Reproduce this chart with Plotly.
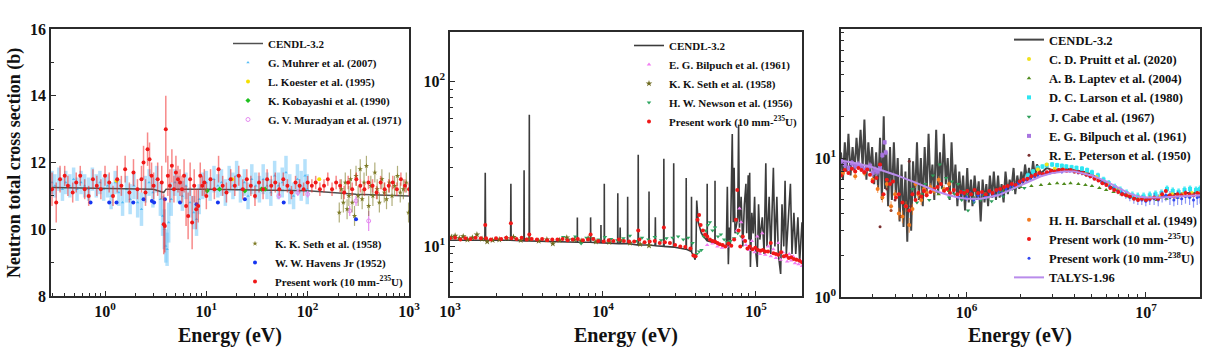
import plotly.graph_objects as go

# ---------------- Panel 1 (0.3 eV - 1 keV) ----------------
cendl1_e = [0.3, 1, 3, 3.8, 4.0, 4.2, 10, 100, 300, 1000]
cendl1_y = [11.25, 11.22, 11.2, 11.1, 11.2, 11.2, 11.2, 11.15, 11.05, 11.0]

muhrer_e = [0.30, 0.32, 0.35, 0.38, 0.41, 0.45, 0.49, 0.53, 0.58, 0.63,
            0.69, 0.75, 0.82, 0.89, 0.97, 1.06, 1.15, 1.26, 1.37, 1.49,
            1.63, 1.77, 1.93, 2.10, 2.29, 2.50, 2.72, 2.97, 3.23, 3.52,
            3.70, 3.84, 3.98, 4.10, 4.25, 4.50, 4.90, 5.30, 5.80, 6.30,
            6.90, 7.50, 8.00, 8.50, 9.20, 10.0, 10.9, 11.9, 13.0, 14.1,
            15.4, 16.8, 18.3, 19.9, 21.7, 23.7, 25.8, 28.1, 30.7, 33.4,
            36.4, 39.7, 43.3, 47.2, 51.4, 56.1, 61.1, 66.6, 72.6, 79.2,
            86.3, 94.1, 99.0]
muhrer_y = [11.4, 11.3, 11.5, 11.2, 11.4, 11.3, 11.5, 11.2, 11.4, 11.3,
            11.2, 11.5, 11.3, 11.4, 11.2, 11.3, 11.0, 11.4, 11.1, 10.8,
            11.2, 10.9, 11.3, 10.8, 10.6, 11.2, 11.4, 11.1, 11.5, 10.9,
            10.4, 10.0, 9.5, 9.4, 10.2, 10.9, 11.4, 11.2, 11.0, 11.3,
            10.8, 10.5, 10.3, 10.9, 11.3, 11.4, 11.2, 11.5, 11.3, 11.4,
            11.1, 11.5, 11.3, 11.6, 11.2, 11.4, 11.0, 11.5, 11.3, 11.2,
            11.5, 11.3, 11.1, 11.6, 11.3, 11.4, 11.7, 11.2, 11.0, 11.5,
            11.3, 11.6, 11.2]
muhrer_err = [0.35, 0.35, 0.35, 0.35, 0.35, 0.35, 0.35, 0.35, 0.35, 0.35,
              0.35, 0.35, 0.35, 0.35, 0.35, 0.35, 0.4, 0.35, 0.4, 0.4,
              0.4, 0.45, 0.4, 0.45, 0.5, 0.4, 0.4, 0.45, 0.4, 0.5,
              0.6, 0.6, 0.5, 0.5, 0.6, 0.5, 0.4, 0.4, 0.45, 0.4,
              0.45, 0.5, 0.5, 0.45, 0.4, 0.35, 0.35, 0.4, 0.35, 0.4,
              0.4, 0.4, 0.4, 0.45, 0.4, 0.4, 0.4, 0.45, 0.4, 0.4,
              0.45, 0.4, 0.4, 0.45, 0.4, 0.45, 0.5, 0.45, 0.4, 0.45,
              0.45, 0.5, 0.45]

koester_e = [1.3, 18, 130]
koester_y = [11.45, 11.5, 11.5]

kobayashi_e = [10.2, 13.5, 24, 35, 38]
kobayashi_y = [11.15, 11.2, 11.15, 11.2, 11.2]

muradyan_e = [52, 80, 100, 260, 300, 400]
muradyan_y = [11.0, 11.1, 11.05, 10.55, 10.85, 10.25]
muradyan_err = [0.1, 0.1, 0.1, 0.15, 0.15, 0.3]

seth1_e = [205, 215, 225, 235, 245, 255, 265, 275, 290, 300,
           315, 330, 345, 360, 380, 400, 420, 440, 460, 485,
           510, 540, 570, 600, 640, 680, 720, 770, 820, 880,
           940, 990]
seth1_y = [10.5, 11.2, 10.8, 11.4, 10.6, 11.0, 11.5, 10.8, 10.4, 11.6,
           11.0, 11.8, 10.9, 11.4, 11.9, 10.7, 11.3, 11.0, 11.7, 11.2,
           10.8, 11.5, 11.1, 10.9, 11.4, 11.0, 11.3, 11.6, 11.1, 11.2,
           11.4, 10.5]

havens_e = [0.72, 1.1, 1.3, 1.9, 2.4, 2.9, 3.05, 3.9, 5.5, 8.0, 13, 24, 58, 300]
havens_y = [10.8, 10.8, 10.8, 10.8, 10.9, 10.85, 10.8, 10.9, 10.8, 10.75, 10.8, 10.9, 10.8, 10.3]

present1_e = [0.30, 0.33, 0.36, 0.40, 0.43, 0.48, 0.52, 0.57, 0.63, 0.69,
              0.76, 0.83, 0.91, 1.00, 1.10, 1.20, 1.32, 1.45, 1.58, 1.74,
              1.91, 2.09, 2.29, 2.40, 2.51, 2.63, 2.75, 2.88, 3.02, 3.31,
              3.63, 3.80, 3.89, 3.98, 4.17, 4.37, 4.57, 4.79, 5.01, 5.25,
              5.50, 5.75, 6.03, 6.31, 6.61, 6.92, 7.24, 7.59, 7.94, 8.32,
              8.71, 9.12, 9.55, 10.0, 11.0, 12.0, 13.2, 14.5, 15.8, 17.4,
              19.1, 20.9, 22.9, 25.1, 27.5, 30.2, 33.1, 36.3, 39.8, 43.7,
              47.9, 52.5, 57.5, 63.1, 69.2, 75.9, 83.2, 91.2, 100, 110,
              120, 132, 145, 158, 174, 191, 209, 229, 251, 275,
              302, 331, 363, 398, 437, 479, 525, 575, 631, 692,
              759, 832, 912, 1000]
present1_y = [11.2, 10.8, 11.5, 11.6, 11.3, 11.1, 11.4, 11.6, 11.2, 11.0,
              11.5, 11.3, 11.2, 11.6, 11.4, 11.0, 11.5, 11.3, 11.8, 11.1,
              11.7, 11.2, 11.5, 12.0, 11.1, 12.4, 12.1, 11.6, 11.3, 11.5,
              11.4, 10.15, 10.1, 13.0, 11.6, 11.3, 11.9, 11.2, 11.7, 11.5,
              11.4, 11.2, 11.6, 10.7, 10.4, 11.5, 10.2, 11.3, 10.6, 10.7,
              11.6, 11.3, 11.4, 11.0, 11.5, 11.2, 11.8, 11.3, 11.1, 11.5,
              11.3, 11.6, 11.2, 11.5, 11.3, 11.0, 11.4, 11.2, 11.5, 11.3,
              11.4, 11.2, 11.5, 11.3, 11.1, 11.4, 11.3, 11.2, 11.4, 11.3,
              11.4, 11.2, 11.3, 11.5, 11.2, 11.4, 11.3, 11.1, 11.4, 11.2,
              11.5, 11.3, 11.2, 11.4, 11.3, 11.1, 11.4, 11.2, 11.3, 11.4,
              11.2, 11.5, 11.3, 11.2]
present1_err = [0.5, 0.6, 0.4, 0.3, 0.3, 0.3, 0.3, 0.3, 0.3, 0.3,
                0.3, 0.3, 0.3, 0.3, 0.3, 0.3, 0.4, 0.3, 0.4, 0.3,
                0.4, 0.3, 0.4, 0.5, 0.4, 0.5, 0.5, 0.4, 0.4, 0.5,
                0.5, 0.9, 0.8, 1.0, 0.6, 0.5, 0.5, 0.4, 0.5, 0.4,
                0.4, 0.4, 0.5, 0.6, 0.7, 0.5, 0.8, 0.5, 0.6, 0.5,
                0.4, 0.3, 0.4, 0.4, 0.3, 0.3, 0.4, 0.3, 0.3, 0.3,
                0.3, 0.3, 0.3, 0.3, 0.3, 0.3, 0.3, 0.3, 0.3, 0.3,
                0.3, 0.2, 0.2, 0.2, 0.2, 0.2, 0.2, 0.2, 0.2, 0.2,
                0.2, 0.2, 0.2, 0.2, 0.2, 0.2, 0.2, 0.2, 0.2, 0.2,
                0.2, 0.2, 0.2, 0.2, 0.2, 0.2, 0.2, 0.2, 0.2, 0.2,
                0.2, 0.2, 0.2, 0.2]

# ---------------- Panel 2 (1 keV - 200 keV) ----------------
cendl2_e = [1000, 1690, 1700, 1710, 2490, 2500, 2510, 3040, 3050, 3060,
            3290, 3300, 3310, 6790, 6800, 6810, 8290, 8300, 8320, 9690,
            9700, 9720, 10190, 10200, 10230, 12470, 12500, 12530, 12900, 12950,
            13000, 14460, 14500, 14540, 16950, 17000, 17050, 19950, 20000, 20050,
            21900, 22000, 22100, 24900, 25000, 25100, 28900, 29000, 29100, 34900,
            35000, 35100, 37800, 37900, 38000, 39500, 40000, 40500, 41000, 41500,
            42000, 44000, 47000, 47900, 48000, 48100, 53900, 54000, 54100, 60000,
            64000, 65000, 66000, 67000, 68000, 70000, 71000, 72000, 73000, 76000,
            77000, 78000, 80000, 82000, 84000, 86000, 87000, 89000, 90000, 91000,
            92000, 94000, 96000, 98000, 100000, 102000, 104000, 106000, 110000, 113000,
            116000, 118000, 122000, 125000, 130000, 133000, 137000, 140000, 145000, 148000,
            152000, 155000, 158000, 163000, 168000, 172000, 177000, 182000, 188000, 193000,
            200000]
cendl2_y = [10.9, 10.9, 28, 10.9, 10.9, 24, 10.9, 10.8, 29, 10.8,
            10.8, 63, 10.8, 10.6, 15, 10.6, 10.6, 15, 10.6, 10.5,
            13.5, 10.5, 10.5, 24, 10.5, 10.4, 21, 10.4, 10.4, 13,
            10.4, 10.4, 20, 10.4, 10.2, 36, 10.2, 10.2, 21.5, 10.2,
            10.1, 15, 10.1, 10.0, 34, 10.0, 9.9, 32, 9.9, 9.6,
            26, 9.6, 9.3, 20, 9.2, 8.6, 8.3, 9.0, 19, 16,
            14, 12, 11, 10.8, 24, 10.8, 10.5, 25, 10.5, 10.2,
            10, 23, 7.8, 13, 10, 48, 14, 30, 12, 15,
            55, 13, 20, 10, 18, 24, 12, 27, 11, 28,
            7.5, 16, 12, 20, 9, 7.5, 18, 11, 15, 9,
            32, 10, 20, 9, 30, 10, 20, 9, 6.8, 18,
            10, 25, 9, 15, 24, 9, 16, 9, 15, 8,
            14]

bilpuch2_e = [48000, 52000, 56000, 60000, 64000, 68000, 72000, 75000, 78000, 80000,
              83000, 86000, 90000, 94000, 98000, 102000, 106000, 110000, 115000, 120000,
              125000, 130000, 135000, 140000, 145000, 150000, 155000, 160000, 165000, 170000,
              175000, 180000, 185000, 190000, 195000, 200000]
bilpuch2_y = [10.2, 10.4, 10.0, 9.8, 9.9, 10.1, 11.0, 12.5, 17, 14,
              11.0, 10.2, 9.5, 10.8, 9.2, 11.5, 9.0, 12, 8.9, 10.0,
              8.7, 9.6, 8.5, 10.5, 8.3, 9.2, 8.6, 8.1, 9.0, 8.2,
              8.7, 7.9, 8.4, 7.8, 8.2, 7.6]

seth2_e = [1020, 1080, 1150, 1220, 1300, 1400, 1500, 1620, 1750, 1900,
           2100, 2350, 2600, 2900, 3300, 3800, 4300, 4700, 5200, 5800,
           6500, 7200, 8000, 9000, 11000, 13000, 15000, 17500, 20000]
seth2_y = [11.4, 11.6, 11.2, 11.5, 11.0, 11.3, 11.8, 11.1, 10.7, 10.9,
           11.0, 11.2, 11.4, 10.9, 11.1, 10.8, 11.0, 10.4, 10.9, 11.3,
           11.0, 10.8, 11.2, 10.7, 10.6, 10.9, 10.5, 10.3, 10.1]

newson_e = [5500, 6000, 6600, 7200, 7800, 8600, 9400, 10300, 11300, 12400,
            13600, 15000, 16500, 18000, 19800, 21800, 24000, 26000, 28500, 31000,
            33500, 36000, 38500, 41000, 42500, 44000, 45500, 47000, 48500, 50000,
            52000, 54000, 56500, 59000, 62000, 65000, 68000, 72000, 76000, 80000]
newson_y = [11.4, 11.0, 11.5, 10.4, 11.3, 11.2, 11.0, 11.4, 11.1, 10.9,
            11.2, 11.6, 10.8, 11.3, 11.0, 11.4, 10.9, 11.2, 11.3, 11.5,
            11.0, 11.3, 10.5, 9.0, 9.3, 9.5, 11.5, 12.5, 13.5, 14.0,
            12.5, 13.0, 11.5, 11.8, 11.0, 10.6, 10.8, 11.2, 12.0, 11.5]

present2_e = [1000, 1080, 1170, 1260, 1360, 1470, 1590, 1700, 1720, 1850,
              2000, 2160, 2330, 2500, 2520, 2720, 2940, 3170, 3300, 3420,
              3700, 4000, 4320, 4660, 5040, 5440, 5870, 6340, 6850, 7400,
              7990, 8300, 8630, 9320, 10100, 10900, 11700, 12700, 13700, 14800,
              16000, 17000, 17300, 18700, 20200, 21800, 23500, 25000, 25400, 27400,
              29600, 32000, 34500, 37300, 39000, 40300, 41500, 42500, 43500, 45000,
              46500, 48000, 50000, 52000, 54000, 56000, 58000, 60500, 63000, 66000,
              69000, 72000, 74000, 75500, 77000, 79000, 82000, 85000, 88000, 91000,
              95000, 99000, 103000, 107000, 111000, 115000, 120000, 125000, 130000, 135000,
              140000, 146000, 152000, 158000, 164000, 170000, 177000, 184000, 192000, 200000]
present2_y = [11.2, 11.3, 11.0, 11.2, 11.1, 11.3, 11.2, 13.5, 11.2, 11.0,
              11.2, 11.1, 11.3, 13.8, 11.2, 11.1, 11.3, 11.0, 11.8, 11.1,
              11.0, 11.1, 10.9, 11.0, 11.0, 11.1, 10.9, 11.0, 11.1, 10.9,
              11.0, 11.8, 11.1, 10.8, 10.7, 10.9, 10.8, 11.0, 10.8, 10.7,
              10.7, 12.5, 11.0, 10.6, 10.7, 10.8, 10.5, 13.0, 10.6, 10.5,
              10.2, 10.0, 9.9, 9.7, 8.8, 8.7, 14.5, 15.5, 13.5, 12.5,
              11.8, 11.5, 11.0, 10.8, 10.7, 10.5, 10.3, 10.2, 10.0, 10.4,
              10.1, 11.0, 14.5, 22, 12.5, 10.0, 11.5, 10.8, 9.7, 10.0,
              9.6, 9.8, 9.5, 9.4, 9.5, 9.3, 9.3, 10.5, 9.1, 9.0,
              8.9, 9.2, 8.7, 8.8, 8.5, 8.6, 8.4, 8.3, 8.2, 8.0]

# ---------------- Panel 3 (200 keV - 20 MeV) ----------------
cendl3_e = [200000, 205000, 210000, 215000, 220000, 226000, 232000, 238000, 244000, 250000,
            257000, 264000, 270000, 277000, 284000, 291000, 298000, 306000, 314000, 322000,
            330000, 338000, 346000, 352000, 358000, 366000, 375000, 384000, 394000, 404000,
            414000, 424000, 435000, 446000, 457000, 468000, 480000, 492000, 504000, 517000,
            530000, 543000, 557000, 571000, 585000, 600000, 615000, 630000, 646000, 662000,
            678000, 695000, 712000, 730000, 748000, 767000, 786000, 806000, 826000, 847000,
            868000, 890000, 912000, 935000, 958000, 982000, 1010000, 1030000, 1060000, 1080000,
            1110000, 1140000, 1170000, 1200000, 1230000, 1260000, 1290000, 1320000, 1350000, 1390000,
            1420000, 1460000, 1500000, 1530000, 1570000, 1610000, 1650000, 1700000, 1740000, 1780000,
            1830000, 1870000, 1920000, 1970000, 2020000, 2070000, 2120000, 2180000, 2230000, 2290000,
            2350000, 2410000, 2470000, 2600000, 2800000, 3000000, 3300000, 3600000, 4000000, 4500000,
            5000000, 5500000, 6000000, 7000000, 8000000, 9000000, 10000000, 12000000, 14000000, 17000000,
            20000000]
cendl3_y = [11, 7, 13, 8, 15, 7.5, 12, 8, 14, 9,
            16, 8.5, 19, 7, 13, 8, 12, 6.5, 11, 6,
            14, 5, 20, 6, 11, 4.5, 12, 5, 13, 5.5,
            10, 3.5, 9, 3.2, 8, 2.5, 10, 3, 9.5, 5,
            13, 5, 10, 4.5, 12, 5.5, 15, 6, 9, 5,
            16, 5.5, 11, 6, 15, 6.5, 10, 5, 13, 5.5,
            9, 4.5, 8, 5, 7.5, 4.2, 8.5, 4.8, 7, 4.5,
            7.5, 5, 6.8, 3.5, 7, 4.8, 6.5, 4.5, 7.5, 5.2,
            8, 5, 7.5, 5.2, 6.5, 4.8, 8, 5.5, 7, 6,
            8.5, 5.5, 7.5, 6, 8, 6.5, 9, 6.8, 8.5, 7,
            9.5, 7.2, 9, 7.8, 8.5, 8.2, 8.3, 8.4, 8.2, 8.0,
            7.6, 7.0, 6.5, 5.8, 5.3, 5.1, 5.1, 5.2, 5.5, 5.6,
            5.6]

pruitt_e = [2500000, 2800000, 3100000, 3500000, 4000000, 4600000, 5300000, 6100000, 7000000, 8000000,
            9200000, 10500000, 12000000, 14000000, 16000000, 18000000, 20000000]
pruitt_y = [8.3, 9.0, 8.4, 8.2, 8.0, 7.7, 7.3, 6.6, 6.0, 5.5,
            5.2, 5.2, 5.3, 5.5, 5.5, 5.6, 5.6]

laptev_e = [700000, 800000, 900000, 1000000, 1100000, 1250000, 1400000, 1600000, 1800000, 2000000,
            2300000, 2600000, 2900000, 3200000, 3500000, 3800000, 4200000, 4600000, 5000000, 5500000,
            6000000, 6600000, 7300000, 8000000, 9000000, 10000000, 11500000, 13000000, 15000000, 17500000,
            20000000]
laptev_y = [5.5, 5.8, 5.3, 5.5, 5.2, 5.4, 5.6, 5.8, 6.0, 6.2,
            6.3, 6.4, 6.5, 6.6, 6.5, 6.6, 6.5, 6.4, 6.3, 6.1,
            5.9, 5.7, 5.5, 5.3, 5.1, 5.0, 5.0, 5.1, 5.2, 5.3,
            5.3]

larson_e = [2200000, 2350000, 2500000, 2650000, 2800000, 3000000, 3200000, 3400000, 3600000, 3850000,
            4100000, 4400000, 4700000, 5000000, 5400000, 5800000, 6200000, 6700000, 7200000, 7800000,
            8400000, 9000000, 9700000, 10500000, 11300000, 12200000, 13100000, 14100000, 15200000, 16400000,
            17600000, 19000000, 20000000]
larson_y = [7.5, 8.0, 8.5, 8.7, 8.9, 9.0, 8.9, 8.8, 8.7, 8.6,
            8.5, 8.4, 8.2, 7.9, 7.5, 7.0, 6.6, 6.2, 5.9, 5.6,
            5.4, 5.3, 5.3, 5.4, 5.5, 5.6, 6.0, 5.8, 5.7, 5.9,
            6.0, 5.9, 6.0]

cabe_e = [500000, 530000, 560000, 590000, 620000, 650000, 680000, 710000, 740000, 770000,
          800000, 830000, 860000, 900000, 940000, 980000, 1020000, 1060000, 1100000, 1150000,
          1200000, 1260000, 1320000, 1380000, 1450000, 1520000, 1600000, 1700000, 1800000, 1900000,
          2000000, 2100000]
cabe_y = [6.0, 4.8, 5.5, 6.5, 5.0, 7.5, 5.8, 9.0, 6.0, 7.2,
          5.2, 6.8, 5.5, 6.5, 5.0, 5.8, 4.2, 5.5, 4.8, 5.6,
          5.0, 5.6, 5.2, 4.9, 5.4, 5.7, 5.3, 5.8, 6.0, 6.2,
          6.4, 6.1]

bilpuch3_e = [200000, 210000, 220000, 230000, 240000, 250000, 260000, 270000, 280000, 290000,
              300000, 310000, 320000, 330000, 340000, 350000, 355000]
bilpuch3_y = [9.5, 9.0, 8.5, 9.2, 8.8, 9.0, 8.6, 8.2, 8.5, 8.8,
              7.8, 8.2, 8.0, 8.5, 10.5, 13.0, 11.0]

peterson_e = [330000, 360000, 380000, 400000, 430000, 480000, 490000]
peterson_y = [3.2, 6.0, 4.2, 5.0, 3.8, 9.5, 4.5]

barschall_e = [205000, 240000, 270000, 300000, 320000, 340000, 360000, 380000, 400000, 420000,
               440000, 460000, 480000, 500000, 520000, 540000, 560000, 580000, 600000, 630000,
               660000, 700000, 750000, 800000]
barschall_y = [7.8, 7.4, 7.8, 7.0, 6.0, 5.2, 6.5, 4.5, 5.5, 4.0,
               3.8, 4.5, 3.3, 4.3, 6.5, 5.5, 5.0, 6.0, 5.6, 6.2,
               5.8, 7.0, 6.0, 6.5]

present235_e = [200000, 210000, 220000, 230000, 240000, 250000, 260000, 270000, 280000, 290000,
                300000, 315000, 330000, 345000, 360000, 375000, 390000, 405000, 420000, 440000,
                460000, 480000, 500000, 520000, 540000, 560000, 580000, 600000, 630000, 660000,
                690000, 720000, 750000, 780000, 810000, 850000, 890000, 930000, 970000, 1010000,
                1060000, 1110000, 1160000, 1220000, 1280000, 1340000, 1400000, 1470000, 1540000, 1620000,
                1700000, 1790000, 1880000, 1980000, 2080000, 2190000, 2300000, 2420000, 2540000, 2670000,
                2810000, 2960000, 3110000, 3270000, 3440000, 3620000, 3810000, 4010000, 4220000, 4440000,
                4670000, 4910000, 5170000, 5440000, 5720000, 6020000, 6330000, 6660000, 7010000, 7370000,
                7750000, 8150000, 8580000, 9030000, 9500000, 10000000, 10500000, 11100000, 11700000, 12300000,
                12900000, 13600000, 14300000, 15000000, 15800000, 16600000, 17500000, 18400000, 19300000, 20000000]
present235_y = [7.5, 8.2, 7.8, 8.4, 8.0, 8.5, 8.2, 7.9, 8.3, 7.6,
                6.8, 7.2, 9.0, 5.5, 7.0, 6.5, 6.8, 5.2, 5.5, 4.8,
                4.5, 4.2, 5.5, 5.0, 5.6, 5.3, 5.8, 5.4, 5.7, 6.0,
                6.2, 6.5, 5.8, 6.0, 5.6, 5.9, 5.5, 5.7, 5.6, 5.8,
                5.5, 5.9, 5.6, 5.7, 5.5, 5.8, 5.6, 5.9, 6.0, 6.2,
                6.3, 6.5, 6.4, 6.8, 7.0, 7.1, 7.4, 7.6, 7.8, 7.7,
                7.9, 8.1, 8.0, 8.2, 8.3, 8.1, 8.2, 8.0, 7.9, 7.8,
                7.6, 7.4, 7.1, 6.9, 6.6, 6.4, 6.1, 5.9, 5.7, 5.5,
                5.4, 5.3, 5.1, 5.0, 5.1, 5.0, 5.1, 5.2, 5.1, 5.5,
                5.8, 5.4, 5.3, 5.5, 5.4, 5.6, 5.5, 5.4, 5.6, 5.5]

present238_e = [900000, 950000, 1000000, 1050000, 1100000, 1160000, 1220000, 1280000, 1350000, 1420000,
                1500000, 1580000, 1660000, 1750000, 1840000, 1940000, 2040000, 2150000, 2260000, 2380000,
                2500000, 2630000, 2770000, 2920000, 3070000, 3230000, 3400000, 3580000, 3770000, 3970000,
                4180000, 4400000, 4630000, 4870000, 5130000, 5400000, 5680000, 5980000, 6290000, 6620000,
                6970000, 7340000, 7720000, 8130000, 8560000, 9010000, 9480000, 9980000, 10500000, 11100000,
                11700000, 12300000, 12900000, 13600000, 14300000, 15000000, 15800000, 16600000, 17500000, 18400000,
                19300000, 20000000]
present238_y = [5.3, 5.6, 5.2, 5.5, 5.0, 5.4, 5.6, 5.3, 5.7, 5.5,
                5.8, 5.6, 6.0, 6.2, 6.3, 6.6, 6.8, 7.0, 7.2, 7.4,
                7.5, 7.6, 7.8, 7.9, 8.0, 8.1, 8.0, 8.2, 8.1, 8.0,
                7.9, 7.8, 7.6, 7.4, 7.2, 7.0, 6.7, 6.5, 6.2, 6.0,
                5.8, 5.6, 5.4, 5.2, 5.1, 5.0, 5.0, 4.9, 5.0, 5.1,
                5.0, 5.3, 5.4, 5.2, 5.0, 5.2, 5.1, 5.3, 5.2, 5.0,
                5.2, 5.3]
present238_err = [0.3, 0.3, 0.3, 0.3, 0.3, 0.3, 0.3, 0.3, 0.3, 0.3,
                  0.3, 0.3, 0.3, 0.3, 0.3, 0.3, 0.3, 0.3, 0.3, 0.3,
                  0.3, 0.3, 0.3, 0.3, 0.3, 0.3, 0.3, 0.3, 0.3, 0.3,
                  0.3, 0.3, 0.3, 0.3, 0.3, 0.3, 0.3, 0.3, 0.3, 0.3,
                  0.3, 0.3, 0.3, 0.3, 0.4, 0.4, 0.4, 0.4, 0.4, 0.5,
                  0.5, 0.5, 0.5, 0.6, 0.5, 0.6, 0.5, 0.6, 0.6, 0.6,
                  0.6, 0.6]

talys_e = [200000, 250000, 300000, 400000, 500000, 600000, 700000, 800000, 900000, 1000000,
           1200000, 1500000, 1800000, 2200000, 2600000, 3000000, 3500000, 4000000, 5000000, 6000000,
           7000000, 8000000, 9000000, 10000000, 12000000, 15000000, 20000000]
talys_y = [9.6, 9.1, 8.6, 7.6, 6.8, 6.2, 5.7, 5.4, 5.2, 5.1,
           5.1, 5.4, 6.0, 6.8, 7.4, 7.8, 8.0, 8.0, 7.5, 6.8,
           6.1, 5.6, 5.3, 5.2, 5.2, 5.3, 5.4]

# tick labels
p1_xticks = [1, 10, 100, 1000]
p1_xlabels = ["10<sup>0</sup>", "10<sup>1</sup>", "10<sup>2</sup>", "10<sup>3</sup>"]
p1_yticks = [8, 10, 12, 14, 16]
p2_xticks = [1e3, 1e4, 1e5]
p2_xlabels = ["10<sup>3</sup>", "10<sup>4</sup>", "10<sup>5</sup>"]
p2_yticks = [10, 100]
p2_ylabels = ["10<sup>1</sup>", "10<sup>2</sup>"]
p3_xticks = [1e6, 1e7]
p3_xlabels = ["10<sup>6</sup>", "10<sup>7</sup>"]
p3_yticks = [1, 10]
p3_ylabels = ["10<sup>0</sup>", "10<sup>1</sup>"]

SUP235 = "Present work (10 mm-<sup>235</sup>U)"
SUP238 = "Present work (10 mm-<sup>238</sup>U)"

fig = go.Figure()


def pts(x, y, name, color, symbol, size, ax, legend, rank, err=None, errc=None, errw=1.2,
        opacity=1.0, line=None):
    kw = {}
    if err is not None:
        kw["error_y"] = dict(type="data", array=err, color=errc or color, thickness=errw, width=0)
    fig.add_trace(go.Scatter(
        x=x, y=y, name=name, mode="markers",
        marker=dict(color=color, symbol=symbol, size=size, opacity=opacity,
                    line=line or dict(width=0)),
        xaxis="x" + ax, yaxis="y" + ax, legend=legend, legendrank=rank, **kw))


def ln(x, y, name, color, width, ax, legend, rank):
    fig.add_trace(go.Scatter(
        x=x, y=y, name=name, mode="lines", line=dict(color=color, width=width),
        xaxis="x" + ax, yaxis="y" + ax, legend=legend, legendrank=rank))


# Panel 1
pts(muhrer_e, muhrer_y, "G. Muhrer et al. (2007)", "#55BDF5", "triangle-up", 3, "", "legend", 2,
    err=muhrer_err, errc="rgba(120,200,248,0.55)", errw=3.5)
ln(cendl1_e, cendl1_y, "CENDL-3.2", "#505050", 1.5, "", "legend", 1)
pts(koester_e, koester_y, "L. Koester et al. (1995)", "#F5E000", "circle", 4, "", "legend", 3)
pts(kobayashi_e, kobayashi_y, "K. Kobayashi et al. (1990)", "#1FC01F", "diamond", 4, "", "legend", 4)
pts(muradyan_e, muradyan_y, "G. V. Muradyan et al. (1971)", "#E58BF0", "circle-open", 4, "", "legend", 5,
    err=muradyan_err, line=dict(width=1, color="#E58BF0"))
pts(seth1_e, seth1_y, "K. K. Seth et al. (1958)", "#7D7A25", "star", 4, "", "legend2", 6,
    err=[0.3] * len(seth1_e), errc="rgba(125,122,37,0.6)")
pts(havens_e, havens_y, "W. W. Havens Jr (1952)", "#1535F0", "circle", 4, "", "legend2", 7)
pts(present1_e, present1_y, SUP235, "#F01818", "circle", 4, "", "legend2", 8,
    err=present1_err, errc="rgba(240,40,40,0.55)", errw=1.5)

# Panel 2
ln(cendl2_e, cendl2_y, "CENDL-3.2", "#3C3C3C", 1.6, "2", "legend3", 1)
pts(bilpuch2_e, bilpuch2_y, "E. G. Bilpuch et al. (1961)", "#F27EF2", "triangle-up", 4, "2", "legend3", 2)
pts(seth2_e, seth2_y, "K. K. Seth et al. (1958)", "#6E6A1E", "star", 5, "2", "legend3", 3)
pts(newson_e, newson_y, "H. W. Newson et al. (1956)", "#2FA661", "triangle-down", 4, "2", "legend3", 4)
pts(present2_e, present2_y, SUP235, "#F01818", "circle", 4, "2", "legend3", 5)

# Panel 3
ln(cendl3_e, cendl3_y, "CENDL-3.2", "#454545", 2.0, "3", "legend4", 1)
pts(larson_e, larson_y, "D. C. Larson et al. (1980)", "#2EE6F2", "square", 4, "3", "legend4", 4,
    err=[0.35] * len(larson_e), errc="rgba(46,230,242,0.8)", errw=2.5)
pts(pruitt_e, pruitt_y, "C. D. Pruitt et al. (2020)", "#F0E21C", "circle", 4, "3", "legend4", 2)
pts(laptev_e, laptev_y, "A. B. Laptev et al. (2004)", "#4F8A1C", "triangle-up", 4, "3", "legend4", 3)
pts(cabe_e, cabe_y, "J. Cabe et al. (1967)", "#2E9E5A", "triangle-down", 4, "3", "legend4", 5)
pts(bilpuch3_e, bilpuch3_y, "E. G. Bilpuch et al. (1961)", "#A875E0", "square", 4, "3", "legend4", 6,
    err=[0.5] * len(bilpuch3_e), errc="rgba(168,117,224,0.7)", errw=2)
pts(peterson_e, peterson_y, "R. E. Peterson et al. (1950)", "#7A2E2E", "circle", 3, "3", "legend4", 7)
pts(barschall_e, barschall_y, "H. H. Barschall et al. (1949)", "#F27A1E", "circle", 4, "3", "legend5", 8,
    err=[0.4] * len(barschall_e), errc="rgba(242,122,30,0.6)")
pts(present238_e, present238_y, SUP238, "#3348F0", "circle", 3, "3", "legend5", 10,
    err=present238_err, errc="rgba(60,80,240,0.6)")
pts(present235_e, present235_y, SUP235, "#F01818", "circle", 4, "3", "legend5", 9)
ln(talys_e, talys_y, "TALYS-1.96", "#B98CEB", 2, "3", "legend5", 11)

FONT = "Liberation Serif"
tickfont = dict(family=FONT, size=16, color="#111", weight="bold")


def minor_log(lo, hi):
    vals = []
    for k in range(lo, hi + 1):
        for m in range(2, 10):
            vals.append(m * 10 ** k)
    return vals


axis_common = dict(showline=True, mirror=True, linecolor="#2b2b2b", linewidth=1.5,
                   showgrid=False, zeroline=False, ticks="inside", ticklen=5,
                   tickcolor="#2b2b2b", tickfont=tickfont, automargin=False)

y0, y1 = (364 - 296) / 364, (364 - 29) / 364

fig.update_layout(
    width=1215, height=364, margin=dict(l=0, r=0, t=0, b=0, pad=0, autoexpand=False),
    paper_bgcolor="white", plot_bgcolor="white",
    font=dict(family=FONT, size=12, color="#111", weight="bold"),
    showlegend=True,
    xaxis=dict(type="log", domain=[51 / 1215, 409 / 1215], range=[-0.533, 3.0], anchor="y",
               tickmode="array", tickvals=p1_xticks, ticktext=p1_xlabels,
               minor=dict(tickmode="array", tickvals=minor_log(-1, 2), ticks="inside", ticklen=3,
                          tickcolor="#2b2b2b"), **axis_common),
    yaxis=dict(domain=[y0, y1], range=[8, 16], anchor="x", tickmode="array", tickvals=p1_yticks,
               minor=dict(dtick=1, ticks="inside", ticklen=3, tickcolor="#2b2b2b"), **axis_common),
    xaxis2=dict(type="log", domain=[450 / 1215, 802 / 1215], range=[3.0, 5.301], anchor="y2",
                tickmode="array", tickvals=p2_xticks, ticktext=p2_xlabels,
                minor=dict(tickmode="array", tickvals=minor_log(3, 5), ticks="inside", ticklen=3,
                           tickcolor="#2b2b2b"), **axis_common),
    yaxis2=dict(type="log", domain=[y0, (364 - 32) / 364], range=[0.699, 2.301], anchor="x2",
                tickmode="array", tickvals=p2_yticks, ticktext=p2_ylabels,
                minor=dict(tickmode="array", tickvals=minor_log(0, 2), ticks="inside", ticklen=3,
                           tickcolor="#2b2b2b"), **axis_common),
    xaxis3=dict(type="log", domain=[841 / 1215, 1200 / 1215], range=[5.301, 7.301], anchor="y3",
                tickmode="array", tickvals=p3_xticks, ticktext=p3_xlabels,
                minor=dict(tickmode="array", tickvals=minor_log(5, 7), ticks="inside", ticklen=3,
                           tickcolor="#2b2b2b"), **axis_common),
    yaxis3=dict(type="log", domain=[(364 - 297) / 364, y1], range=[0, 1.93], anchor="x3",
                tickmode="array", tickvals=p3_yticks, ticktext=p3_ylabels,
                minor=dict(tickmode="array", tickvals=minor_log(0, 1), ticks="inside", ticklen=3,
                           tickcolor="#2b2b2b"), **axis_common),
)

leg_common = dict(bgcolor="rgba(0,0,0,0)", borderwidth=0, itemwidth=30, itemsizing="trace",
                  xanchor="left", yanchor="top", tracegroupgap=0)
fig.update_layout(
    legend=dict(x=228 / 1215, y=(364 - 29) / 364, font=dict(family=FONT, size=11, weight="bold"), **leg_common),
    legend2=dict(x=235 / 1215, y=(364 - 229) / 364, font=dict(family=FONT, size=11, weight="bold"), **leg_common),
    legend3=dict(x=629 / 1215, y=(364 - 31) / 364, font=dict(family=FONT, size=11, weight="bold"), **leg_common),
    legend4=dict(x=1009 / 1215, y=(364 - 25) / 364, font=dict(family=FONT, size=12.5, weight="bold"), **leg_common),
    legend5=dict(x=1009 / 1215, y=(364 - 205) / 364, font=dict(family=FONT, size=12.5, weight="bold"), **leg_common),
)

title_font = dict(family=FONT, size=20, color="#111", weight="bold")
for cx in [230, 626, 1020]:
    fig.add_annotation(text="<b>Energy (eV)</b>", x=cx / 1215, y=(364 - 335) / 364, xref="paper", yref="paper",
                       showarrow=False, font=title_font, xanchor="center", yanchor="middle")
fig.add_annotation(text="<b>Neutron total cross section (b)</b>", x=14 / 1215, y=(364 - 163) / 364,
                   xref="paper", yref="paper", showarrow=False, textangle=-90,
                   font=dict(family=FONT, size=18, color="#111", weight="bold"),
                   xanchor="center", yanchor="middle")

fig.write_html("out.html", config={"displayModeBar": False},
               post_script="document.body.style.margin='0px';")
